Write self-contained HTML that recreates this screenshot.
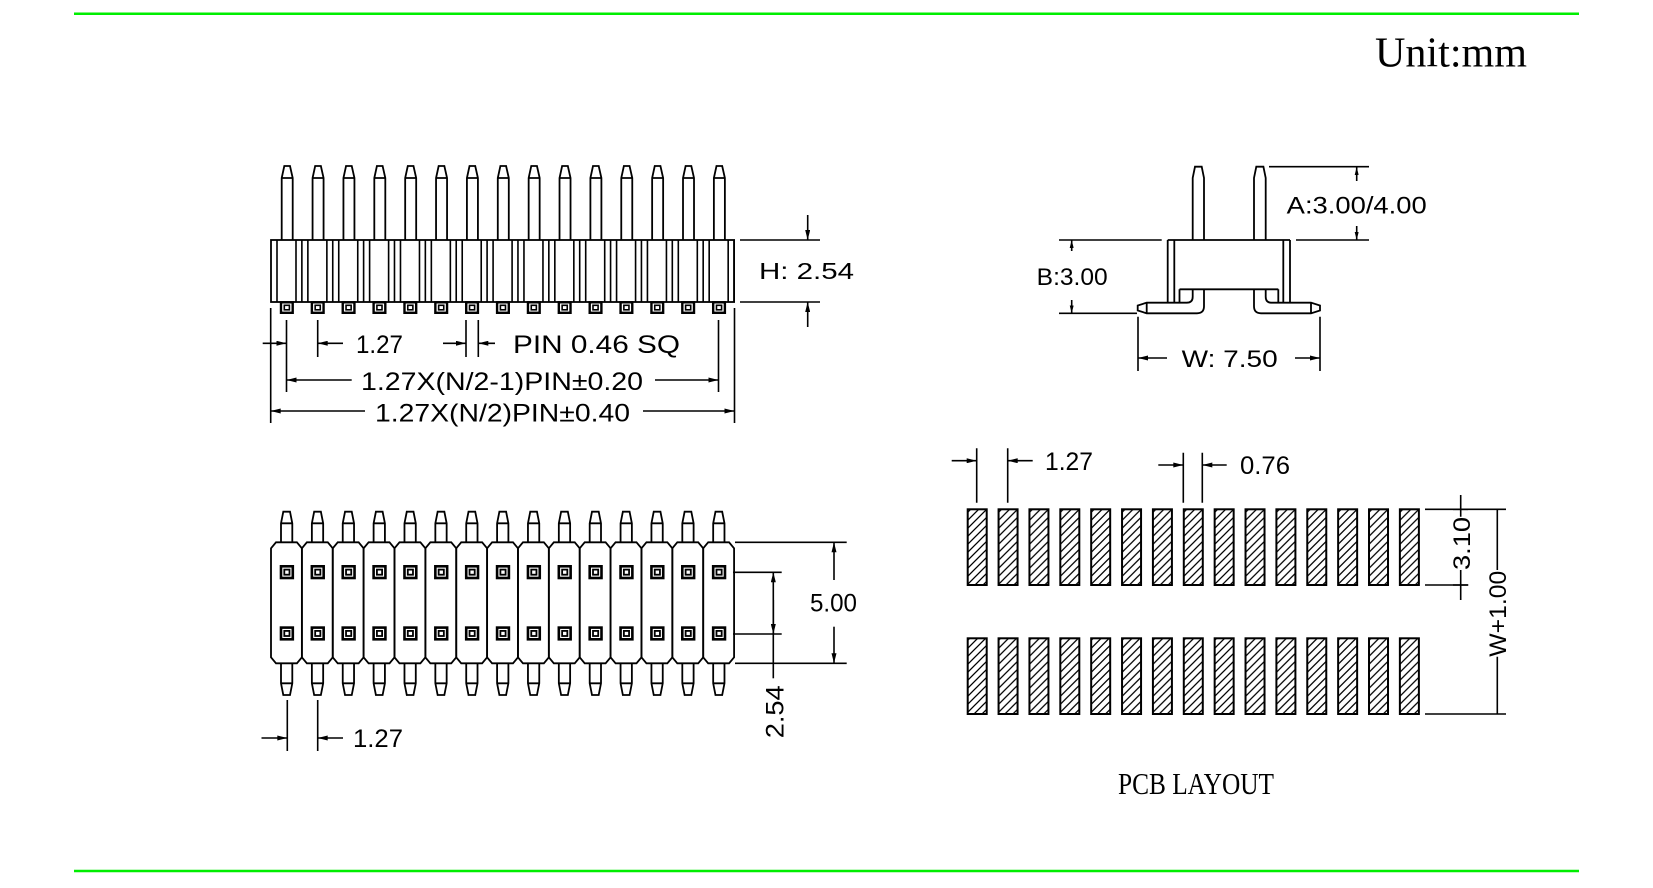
<!DOCTYPE html>
<html>
<head>
<meta charset="utf-8">
<style>
html,body{margin:0;padding:0;background:#fff;}
svg{display:block;}
text{font-family:"Liberation Sans",sans-serif;fill:#000;}
.s{font-family:"Liberation Serif",serif;}
</style>
</head>
<body>
<svg width="1653" height="888" viewBox="0 0 1653 888" xmlns="http://www.w3.org/2000/svg">
<defs>
  <marker id="a" viewBox="0 0 12 6" refX="12" refY="3" markerWidth="12" markerHeight="5" markerUnits="userSpaceOnUse" orient="auto">
    <path d="M0,0 L12,3 L0,6 z" fill="#000"/>
  </marker>
  <marker id="sa" viewBox="0 0 8 4" refX="8" refY="2" markerWidth="8" markerHeight="4" markerUnits="userSpaceOnUse" orient="auto">
    <path d="M0,0 L8,2 L0,4 z" fill="#000"/>
  </marker>
  <pattern id="h" patternUnits="userSpaceOnUse" width="8" height="8">
    <path d="M-1,1 L1,-1 M0,8 L8,0 M7,9 L9,7" stroke="#000" stroke-width="1.3"/>
  </pattern>
  <g id="tc" fill="none" stroke="#000" stroke-width="1.8">
    <path d="M281.7,240 V178 L284.3,166 H290 L292.7,178 V240 M281.7,178 H292.7"/>
    <path d="M277,240 V302 M296,240 V302 M301.87,240 V302" stroke-width="1.6"/>
    <rect x="281" y="302.3" width="11.7" height="10.5" stroke-width="2.4"/>
    <rect x="284.3" y="305.3" width="5.1" height="4.5" stroke-width="1.6"/>
  </g>
  <g id="bc" fill="none" stroke="#000" stroke-width="1.8">
    <path d="M276,542.3 H296.9 L301.9,548.3 V657.3 L296.9,663.3 H276 L271,657.3 V548.3 Z"/>
    <path d="M281,542.3 V523.3 L283.3,511.7 H290 L292.3,523.3 V542.3 M281,523.3 H292.3"/>
    <path d="M281,663.3 V683.3 L283.3,695 H290 L292.3,683.3 V663.3 M281,683.3 H292.3"/>
    <rect x="281" y="566.3" width="11.8" height="11.7" stroke-width="2.6"/>
    <rect x="284.3" y="569.6" width="5.2" height="5.1" stroke-width="1.8"/>
    <rect x="281" y="627.6" width="11.8" height="11.7" stroke-width="2.6"/>
    <rect x="284.3" y="630.9" width="5.2" height="5.1" stroke-width="1.8"/>
  </g>
  <g id="pd" stroke="#000" stroke-width="2" fill="url(#h)">
    <rect x="967.7" y="509.3" width="19" height="75.7"/>
    <rect x="967.7" y="638.3" width="19" height="75.7"/>
  </g>
</defs>

<!-- green border lines -->
<line x1="74" y1="13.7" x2="1579" y2="13.7" stroke="#00ee00" stroke-width="2.5"/>
<line x1="74" y1="871" x2="1579" y2="871" stroke="#00ee00" stroke-width="2.5"/>

<text class="s" x="1375" y="66.7" font-size="42" textLength="152" lengthAdjust="spacingAndGlyphs">Unit:mm</text>

<!-- ===== Top-left chip ===== -->
<rect x="271" y="240" width="463.1" height="62" fill="none" stroke="#000" stroke-width="1.8"/>
<use href="#tc"/>
<use href="#tc" x="30.87"/>
<use href="#tc" x="61.74"/>
<use href="#tc" x="92.61"/>
<use href="#tc" x="123.48"/>
<use href="#tc" x="154.35"/>
<use href="#tc" x="185.22"/>
<use href="#tc" x="216.09"/>
<use href="#tc" x="246.96"/>
<use href="#tc" x="277.83"/>
<use href="#tc" x="308.7"/>
<use href="#tc" x="339.57"/>
<use href="#tc" x="370.44"/>
<use href="#tc" x="401.31"/>
<use href="#tc" x="432.18"/>

<g stroke="#000" stroke-width="1.6" fill="none">
  <path d="M740,240 H820 M740,302 H820"/>
  <line x1="807.7" y1="215" x2="807.7" y2="240" marker-end="url(#a)"/>
  <line x1="807.7" y1="327" x2="807.7" y2="302" marker-end="url(#a)"/>
  <path d="M270.7,308 V423 M286.5,320 V392 M317.7,320 V357 M466,320 V357 M478.3,320 V357 M718.5,320 V392 M734.5,308 V423"/>
  <line x1="262.7" y1="343.3" x2="286.5" y2="343.3" marker-end="url(#a)"/>
  <line x1="343" y1="343.3" x2="317.7" y2="343.3" marker-end="url(#a)"/>
  <line x1="443" y1="343.3" x2="466" y2="343.3" marker-end="url(#a)"/>
  <line x1="495" y1="343.3" x2="478.3" y2="343.3" marker-end="url(#a)"/>
  <line x1="351.7" y1="380" x2="286.5" y2="380" marker-end="url(#a)"/>
  <line x1="655" y1="380" x2="718.5" y2="380" marker-end="url(#a)"/>
  <line x1="365" y1="411" x2="270.7" y2="411" marker-end="url(#a)"/>
  <line x1="643" y1="411" x2="734.5" y2="411" marker-end="url(#a)"/>
</g>
<text x="759" y="279" font-size="23" textLength="95" lengthAdjust="spacingAndGlyphs">H: 2.54</text>
<text x="356" y="353" font-size="25" textLength="47" lengthAdjust="spacingAndGlyphs">1.27</text>
<text x="513" y="353" font-size="25" textLength="167" lengthAdjust="spacingAndGlyphs">PIN 0.46 SQ</text>
<text x="361" y="390" font-size="25" textLength="282" lengthAdjust="spacingAndGlyphs">1.27X(N/2-1)PIN±0.20</text>
<text x="375" y="421.7" font-size="25" textLength="255" lengthAdjust="spacingAndGlyphs">1.27X(N/2)PIN±0.40</text>

<!-- ===== Side view ===== -->
<g stroke="#000" stroke-width="1.8" fill="none">
  <path d="M1192.7,240 V178 L1195,166.7 H1201.7 L1204,178 V240"/>
  <path d="M1254,240 V178 L1256.3,166.7 H1263.4 L1265.7,178 V240"/>
  <path d="M1167.7,240 H1290"/>
  <path d="M1167.7,240 V302.7 M1174.3,240 V302.7 M1283.3,240 V302.7 M1290,240 V302.7"/>
  <path d="M1179.5,289.3 H1278.3 M1179.5,289.3 V302.7 M1278.3,289.3 V302.7"/>
  <path d="M1192.7,289.3 V296.7 Q1192.7,302.7 1186.7,302.7 H1146.7 L1137.7,305.5 V310.5 L1146.7,313.3 H1197 Q1204,313.3 1204,306.3 V289.3 M1146.7,302.7 V313.3"/>
  <path d="M1254,289.3 V306.3 Q1254,313.3 1261,313.3 H1311 L1320,310.5 V305.5 L1311,302.7 H1271.7 Q1265.7,302.7 1265.7,296.7 V289.3 M1311,302.7 V313.3"/>
</g>
<g stroke="#000" stroke-width="1.6" fill="none">
  <path d="M1269,166.7 H1369 M1296,240 H1369"/>
  <line x1="1356.7" y1="181" x2="1356.7" y2="167" marker-end="url(#sa)"/>
  <line x1="1356.7" y1="226" x2="1356.7" y2="240" marker-end="url(#sa)"/>
  <path d="M1059,240 H1161.7 M1059,313.3 H1137"/>
  <line x1="1071.7" y1="251" x2="1071.7" y2="240" marker-end="url(#sa)"/>
  <line x1="1071.7" y1="300" x2="1071.7" y2="313.3" marker-end="url(#sa)"/>
  <path d="M1138,316.7 V371 M1320,316.7 V371"/>
  <line x1="1167" y1="358" x2="1138" y2="358" marker-end="url(#a)"/>
  <line x1="1295" y1="358" x2="1320" y2="358" marker-end="url(#a)"/>
</g>
<text x="1286.7" y="213.3" font-size="24" textLength="140" lengthAdjust="spacingAndGlyphs">A:3.00/4.00</text>
<text x="1036.7" y="285" font-size="24" textLength="71" lengthAdjust="spacingAndGlyphs">B:3.00</text>
<text x="1181.7" y="367" font-size="24" textLength="96" lengthAdjust="spacingAndGlyphs">W: 7.50</text>

<!-- ===== Bottom-left chip ===== -->
<use href="#bc"/>
<use href="#bc" x="30.87"/>
<use href="#bc" x="61.74"/>
<use href="#bc" x="92.61"/>
<use href="#bc" x="123.48"/>
<use href="#bc" x="154.35"/>
<use href="#bc" x="185.22"/>
<use href="#bc" x="216.09"/>
<use href="#bc" x="246.96"/>
<use href="#bc" x="277.83"/>
<use href="#bc" x="308.7"/>
<use href="#bc" x="339.57"/>
<use href="#bc" x="370.44"/>
<use href="#bc" x="401.31"/>
<use href="#bc" x="432.18"/>

<g stroke="#000" stroke-width="1.6" fill="none">
  <path d="M735,542.3 H846.7 M735,663.3 H846.7"/>
  <line x1="834" y1="580" x2="834" y2="542.3" marker-end="url(#a)"/>
  <line x1="834" y1="626.7" x2="834" y2="663.3" marker-end="url(#a)"/>
  <path d="M733,572.3 H781.7 M733,634 H781.7"/>
  <line x1="773.3" y1="678.3" x2="773.3" y2="572.3" marker-end="url(#a)"/>
  <line x1="773.3" y1="600" x2="773.3" y2="634" marker-end="url(#a)"/>
  <path d="M287.3,700 V751 M317.7,700 V751"/>
  <line x1="261.5" y1="738" x2="287.3" y2="738" marker-end="url(#a)"/>
  <line x1="343" y1="738" x2="317.7" y2="738" marker-end="url(#a)"/>
</g>
<text x="810" y="611.7" font-size="25" textLength="47" lengthAdjust="spacingAndGlyphs">5.00</text>
<text transform="translate(783.3,738.3) rotate(-90)" x="0" y="0" font-size="25" textLength="53" lengthAdjust="spacingAndGlyphs">2.54</text>
<text x="353" y="747" font-size="25" textLength="50" lengthAdjust="spacingAndGlyphs">1.27</text>

<!-- ===== PCB layout ===== -->
<use href="#pd"/>
<use href="#pd" x="30.87"/>
<use href="#pd" x="61.74"/>
<use href="#pd" x="92.61"/>
<use href="#pd" x="123.48"/>
<use href="#pd" x="154.35"/>
<use href="#pd" x="185.22"/>
<use href="#pd" x="216.09"/>
<use href="#pd" x="246.96"/>
<use href="#pd" x="277.83"/>
<use href="#pd" x="308.7"/>
<use href="#pd" x="339.57"/>
<use href="#pd" x="370.44"/>
<use href="#pd" x="401.31"/>
<use href="#pd" x="432.18"/>

<g stroke="#000" stroke-width="1.6" fill="none">
  <path d="M976.7,448.3 V502.7 M1007.7,448.3 V502.7"/>
  <line x1="951.7" y1="460.7" x2="976.7" y2="460.7" marker-end="url(#a)"/>
  <line x1="1032.7" y1="460.7" x2="1007.7" y2="460.7" marker-end="url(#a)"/>
  <path d="M1183.3,452.7 V502.7 M1202.3,452.7 V502.7"/>
  <line x1="1158.3" y1="465" x2="1183.3" y2="465" marker-end="url(#a)"/>
  <line x1="1226.7" y1="465" x2="1202.3" y2="465" marker-end="url(#a)"/>
  <path d="M1425,509.3 H1506 M1425,585 H1468.3 M1425,714 H1506"/>
  <path d="M1460.7,495 V516.7 M1460.7,570 V600 M1453,509.3 H1468 M1453,585 H1468"/>
  <path d="M1497.3,509.3 V570 M1497.3,656.7 V714"/>
</g>
<text x="1045" y="470" font-size="25" textLength="48" lengthAdjust="spacingAndGlyphs">1.27</text>
<text x="1240" y="474" font-size="25" textLength="50" lengthAdjust="spacingAndGlyphs">0.76</text>
<text transform="translate(1470,570) rotate(-90)" x="0" y="0" font-size="24" textLength="53" lengthAdjust="spacingAndGlyphs">3.10</text>
<text transform="translate(1506,656.7) rotate(-90)" x="0" y="0" font-size="24" textLength="86" lengthAdjust="spacingAndGlyphs">W+1.00</text>
<text class="s" x="1118" y="794" font-size="31" textLength="156" lengthAdjust="spacingAndGlyphs">PCB LAYOUT</text>
</svg>
</body>
</html>
